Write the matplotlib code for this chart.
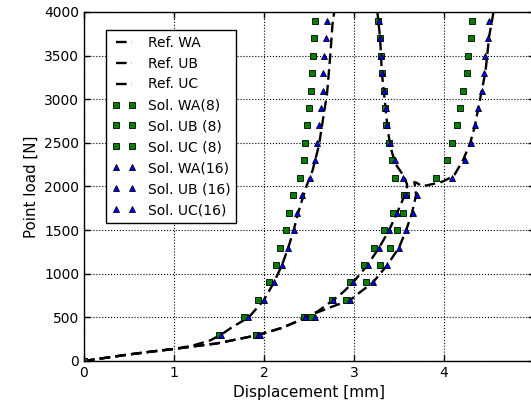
import matplotlib
matplotlib.use("Agg")
import matplotlib.pyplot as plt

# ---------------- data ----------------
# Reference curves (displacement [mm], load [N])
ref_wa_disp = [0, 0.25, 0.5, 0.75, 1.0, 1.2, 1.4, 1.52, 1.65, 1.83, 2.0, 2.11, 2.2, 2.27,
               2.33, 2.38, 2.44, 2.47, 2.54, 2.61, 2.66, 2.70, 2.72, 2.74, 2.76, 2.78]
ref_wa_load = [0, 38, 75, 108, 138, 175, 235, 300, 390, 500, 700, 900, 1100, 1300,
               1500, 1700, 1900, 2000, 2185, 2470, 2800, 3060, 3300, 3550, 3850, 4000]

ref_ub_disp = [0, 0.25, 0.5, 0.75, 1.0, 1.2, 1.48, 1.93, 2.2, 2.45, 2.6, 2.77, 2.88, 2.99,
               3.15, 3.28, 3.39, 3.48, 3.58, 3.59, 3.56, 3.51, 3.46, 3.42, 3.39, 3.37,
               3.35, 3.33, 3.31, 3.30, 3.29, 3.27, 3.26]
ref_ub_load = [0, 38, 75, 108, 138, 165, 202, 297, 380, 490, 570, 700, 790, 900,
               1100, 1300, 1500, 1700, 1940, 2020, 2110, 2185, 2260, 2400, 2550, 2700,
               2900, 3100, 3300, 3500, 3700, 3900, 4000]

ref_uc_disp = [0, 0.25, 0.5, 0.75, 1.0, 1.2, 1.48, 1.93, 2.2, 2.45, 2.55, 2.75, 2.96, 3.05,
               3.21, 3.37, 3.50, 3.58, 3.645, 3.69, 3.68, 3.67, 3.70, 3.75, 3.82, 3.90,
               3.98, 4.05, 4.12, 4.21, 4.29, 4.34, 4.38, 4.42, 4.46, 4.48, 4.50, 4.54, 4.55]
ref_uc_load = [0, 38, 75, 108, 138, 165, 202, 297, 380, 490, 540, 620, 700, 775,
               900, 1100, 1300, 1500, 1700, 1900, 2000, 2050, 2040, 2005, 2015, 2035,
               2055, 2090, 2140, 2300, 2494, 2681, 2891, 3101, 3310, 3500, 3711, 3940, 4000]

# Solution loads
sol_load = [0, 300, 500, 700, 900, 1100, 1300, 1500, 1700, 1900, 2100, 2300, 2500,
            2700, 2900, 3100, 3300, 3500, 3700, 3900]
sol_load16 = sol_load[1:]

# 8-element solutions
sol_wa8 = [0, 1.50, 1.78, 1.93, 2.05, 2.13, 2.18, 2.24, 2.28, 2.32, 2.40, 2.44, 2.46,
           2.48, 2.50, 2.52, 2.53, 2.54, 2.56, 2.57]
sol_ub8 = [0, 1.91, 2.44, 2.76, 2.96, 3.11, 3.22, 3.33, 3.43, 3.55, 3.46, 3.42, 3.39,
           3.36, 3.34, 3.33, 3.31, 3.30, 3.29, 3.27]
sol_uc8 = [0, 1.91, 2.52, 2.91, 3.13, 3.29, 3.40, 3.48, 3.54, 3.58, 3.91, 4.03, 4.09,
           4.14, 4.18, 4.21, 4.25, 4.27, 4.30, 4.31]

# 16-element solutions
sol_wa16 = [1.52, 1.82, 2.00, 2.11, 2.20, 2.27, 2.33, 2.37, 2.42, 2.51, 2.57, 2.59,
            2.61, 2.63, 2.65, 2.66, 2.67, 2.69, 2.70]
sol_ub16 = [1.93, 2.46, 2.77, 2.99, 3.15, 3.28, 3.39, 3.48, 3.58, 3.54, 3.45, 3.40,
            3.37, 3.35, 3.33, 3.31, 3.30, 3.29, 3.28]
sol_uc16 = [1.96, 2.57, 2.96, 3.21, 3.37, 3.50, 3.58, 3.65, 3.70, 4.09, 4.23, 4.30,
            4.34, 4.38, 4.42, 4.44, 4.46, 4.49, 4.50]

x_ticks = [0, 1, 2, 3, 4]
y_ticks = [0, 500, 1000, 1500, 2000, 2500, 3000, 3500, 4000]

# ---------------- figure ----------------
plt.rcParams['font.family'] = ['DejaVu Sans']
fig = plt.figure(figsize=(5.31, 4.17), dpi=100)
ax = fig.add_axes([84 / 531, 56 / 417, 450 / 531, 349 / 417])

dash_kw = dict(color='black', linewidth=1.7, linestyle=(0, (4.5, 2.2)))
ax.plot(ref_wa_disp, ref_wa_load, label='Ref. WA', **dash_kw)
ax.plot(ref_ub_disp, ref_ub_load, label='Ref. UB', **dash_kw)
ax.plot(ref_uc_disp, ref_uc_load, label='Ref. UC', **dash_kw)

sq_kw = dict(linestyle='none', marker='s', markersize=4.3, markerfacecolor='#008000',
             markeredgecolor='black', markeredgewidth=0.6)
ax.plot(sol_wa8, sol_load, label='Sol. WA(8)', **sq_kw)
ax.plot(sol_ub8, sol_load, label='Sol. UB (8)', **sq_kw)
ax.plot(sol_uc8, sol_load, label='Sol. UC (8)', **sq_kw)

tr_kw = dict(linestyle='none', marker='^', markersize=4.6, markerfacecolor='#0000ff',
             markeredgecolor='black', markeredgewidth=0.6)
ax.plot(sol_wa16, sol_load16, label='Sol. WA(16)', **tr_kw)
ax.plot(sol_ub16, sol_load16, label='Sol. UB (16)', **tr_kw)
ax.plot(sol_uc16, sol_load16, label='Sol. UC(16)', **tr_kw)

ax.set_xlim(0, 5)
ax.set_ylim(0, 4000)
ax.set_xticks(x_ticks)
ax.set_yticks(y_ticks)
ax.tick_params(direction='in', top=True, right=True, length=4, width=1,
               labelsize=10, colors='black')
ax.grid(True, linestyle=':', color='black', linewidth=0.8)
for s in ax.spines.values():
    s.set_linewidth(1.0)
    s.set_color('black')

ax.set_xlabel('Displacement [mm]', fontsize=11)
ax.set_ylabel('Point load [N]', fontsize=10.8)

leg = ax.legend(loc='upper left', bbox_to_anchor=(22 / 450, (361 - 30) / 349),
                borderaxespad=0, numpoints=2, fontsize=10, fancybox=False,
                handlelength=1.8, framealpha=1, edgecolor='black')
leg.get_frame().set_linewidth(1.0)

fig.savefig('out.png', dpi=100)
